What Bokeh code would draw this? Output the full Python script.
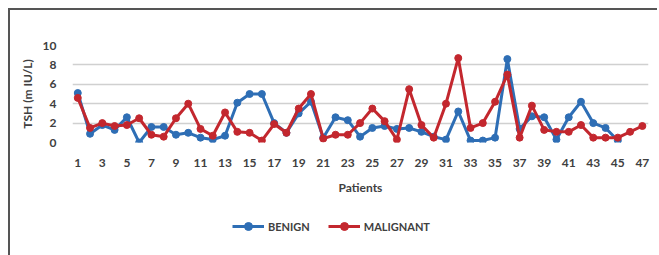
from bokeh.plotting import figure
from bokeh.layouts import column
from bokeh.models import ColumnDataSource, Legend, LegendItem, FixedTicker, Range1d
from bokeh.embed import file_html
from bokeh.resources import INLINE

patients_benign = list(range(1, 46))
benign = [5.1, 0.9, 1.8, 1.3, 2.6, 0.0, 1.6, 1.6, 0.8, 1.0,
          0.5, 0.3, 0.7, 4.1, 5.0, 5.0, 2.0, 1.0, 3.0, 4.2,
          0.5, 2.6, 2.3, 0.6, 1.5, 1.7, 1.4, 1.5, 1.1, 0.6,
          0.3, 3.2, 0.2, 0.2, 0.5, 8.6, 1.4, 2.7, 2.6, 0.3,
          2.6, 4.2, 2.0, 1.5, 0.2]
patients_malignant = list(range(1, 48))
malignant = [4.6, 1.5, 2.0, 1.7, 1.8, 2.5, 0.8, 0.6, 2.5, 4.0,
             1.4, 0.7, 3.1, 1.1, 1.0, 0.2, 1.9, 1.0, 3.5, 5.0,
             0.4, 0.8, 0.8, 2.0, 3.5, 2.2, 0.3, 5.5, 1.8, 0.5,
             4.0, 8.7, 1.5, 2.0, 4.2, 7.0, 0.5, 3.8, 1.3, 1.1,
             1.1, 1.8, 0.5, 0.5, 0.5, 1.1, 1.7]
x_ticks = list(range(1, 48, 2))
y_ticks = [0, 2, 4, 6, 8, 10]

BLUE = "#2E6EB5"
RED = "#C3272E"
FONT = "Lato"
TXT = "#404040"

sb = ColumnDataSource(dict(x=patients_benign, y=benign))
sm = ColumnDataSource(dict(x=patients_malignant, y=malignant))

# ---- main chart ----
p = figure(width=647, height=187, output_backend="svg", toolbar_location=None,
           x_range=Range1d(0.57, 47.5), y_range=Range1d(0, 10),
           min_border_left=62, min_border_right=9, min_border_top=35, min_border_bottom=55)
p.outline_line_color = None

p.line("x", "y", source=sb, line_color=BLUE, line_width=3)
p.scatter("x", "y", source=sb, size=7, fill_color=BLUE, line_color=BLUE)
p.line("x", "y", source=sm, line_color=RED, line_width=3)
p.scatter("x", "y", source=sm, size=7, fill_color=RED, line_color=RED)

p.xaxis.ticker = FixedTicker(ticks=x_ticks)
p.yaxis.ticker = FixedTicker(ticks=y_ticks)
for ax in (p.xaxis[0], p.yaxis[0]):
    ax.axis_line_color = None
    ax.major_tick_line_color = None
    ax.minor_tick_line_color = None
    ax.major_label_text_font = FONT
    ax.major_label_text_font_size = "12px"
    ax.major_label_text_font_style = "bold"
    ax.major_label_text_color = TXT
    ax.axis_label_text_font = FONT
    ax.axis_label_text_font_size = "12px"
    ax.axis_label_text_font_style = "bold"
    ax.axis_label_text_color = TXT
p.xaxis.axis_label = "Patients"
p.yaxis.axis_label = "TSH (m IU/L)"
p.xaxis.major_label_standoff = 10
p.yaxis.major_label_standoff = 10
p.xaxis.axis_label_standoff = 10
p.yaxis.axis_label_standoff = 5

p.xgrid.grid_line_color = None
p.ygrid.grid_line_color = "#D0D0D0"
p.ygrid.grid_line_width = 1.5

# ---- legend strip (same series, drawn off-view so only the legend shows) ----
lg = figure(width=647, height=60, output_backend="svg", toolbar_location=None,
            x_range=Range1d(1000, 1001), y_range=Range1d(1000, 1001),
            x_axis_location=None, y_axis_location=None,
            min_border_left=0, min_border_right=0, min_border_top=0, min_border_bottom=0)
lg.outline_line_color = None
lg.grid.visible = False
lb = lg.line("x", "y", source=sb, line_color=BLUE, line_width=3)
cb = lg.scatter("x", "y", source=sb, size=7, fill_color=BLUE, line_color=BLUE)
lm = lg.line("x", "y", source=sm, line_color=RED, line_width=3)
cm = lg.scatter("x", "y", source=sm, size=7, fill_color=RED, line_color=RED)

legend = Legend(items=[LegendItem(label="BENIGN", renderers=[lb, cb]),
                       LegendItem(label="MALIGNANT", renderers=[lm, cm])],
                orientation="horizontal", location=(160, 21),
                label_text_font=FONT, label_text_font_size="11px",
                label_text_font_style="bold", label_text_color=TXT,
                glyph_width=32, label_standoff=4, spacing=18,
                border_line_color=None, background_fill_alpha=0)
lg.add_layout(legend, "center")

layout = column(p, lg, spacing=0,
                styles={"position": "relative", "left": "8px", "top": "8px",
                        "border-left": "2px solid #555555", "border-top": "2px solid #555555"})

open("out.html", "w").write(file_html(layout, INLINE))
